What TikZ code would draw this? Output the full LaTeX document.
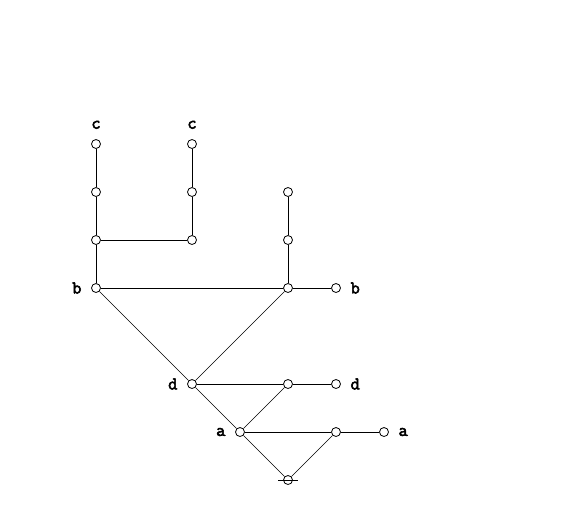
\documentclass[tikz,border=0pt]{standalone}
\usepackage{fontspec}
\newfontfamily\lblfont{Latin Modern Mono}[FakeBold=3]
\usepackage{tikz}
\usetikzlibrary{positioning}

\tikzset{
    vtx/.style={draw, circle, fill=white, inner sep=0pt,
        minimum size=6.75pt, line width=0.6pt},
    lbl/.style={font=\lblfont\fontsize{13.5}{13.5}\selectfont,
        inner sep=0pt},
    edge/.style={line width=0.7pt}
}

\begin{document}
\begin{tikzpicture}[x=36pt, y=36pt]

    \useasboundingbox (0,0) rectangle (12.0417,-11.0417);

    % left branch
    \node[vtx] (ctl) at (2,-3) {};
    \node[vtx] (ml) at (2,-4) {};
    \node[vtx] (jl) at (2,-5) {};
    \node[vtx] (b) at (2,-6) {};

    % middle branch
    \node[vtx] (ctr) at (4,-3) {};
    \node[vtx] (mr) at (4,-4) {};
    \node[vtx] (jr) at (4,-5) {};

    % right branch
    \node[vtx] (tp) at (6,-4) {};
    \node[vtx] (mp) at (6,-5) {};
    \node[vtx] (bj) at (6,-6) {};
    \node[vtx] (bl) at (7,-6) {};

    % lower part
    \node[vtx] (d) at (4,-8) {};
    \node[vtx] (dj) at (6,-8) {};
    \node[vtx] (dl) at (7,-8) {};
    \node[vtx] (a) at (5,-9) {};
    \node[vtx] (aj) at (7,-9) {};
    \node[vtx] (al) at (8,-9) {};
    \node[vtx] (root) at (6,-10) {};

    % labels
    \node[lbl] (lctl) at (2,-2.6) {c};
    \node[lbl] (lctr) at (4,-2.6) {c};
    \node[lbl] (lb) at (1.6,-6) {b};
    \node[lbl] (lbl) at (7.4,-6) {b};
    \node[lbl] (ld) at (3.6,-8) {d};
    \node[lbl] (ldl) at (7.4,-8) {d};
    \node[lbl] (la) at (4.6,-9) {a};
    \node[lbl] (lal) at (8.4,-9) {a};

    \draw[edge] (ctl) -- (ml);
    \draw[edge] (ml) -- (jl);
    \draw[edge] (jl) -- (b);
    \draw[edge] (ctr) -- (mr);
    \draw[edge] (mr) -- (jr);
    \draw[edge] (jl) -- (jr);
    \draw[edge] (tp) -- (mp);
    \draw[edge] (mp) -- (bj);
    \draw[edge] (b) -- (bj);
    \draw[edge] (bj) -- (bl);

    \draw (b) -- (d);
    \draw (bj) -- (d);
    \draw[edge] (d) -- (dj);
    \draw[edge] (dj) -- (dl);
    \draw (d) -- (a);
    \draw (dj) -- (a);
    \draw[edge] (a) -- (aj);
    \draw[edge] (aj) -- (al);
    \draw (a) -- (root);
    \draw (aj) -- (root);

    % root tick
    \draw[edge] ([xshift=-7.5pt]root.center) -- ([xshift=7.5pt]root.center);

\end{tikzpicture}
\end{document}
